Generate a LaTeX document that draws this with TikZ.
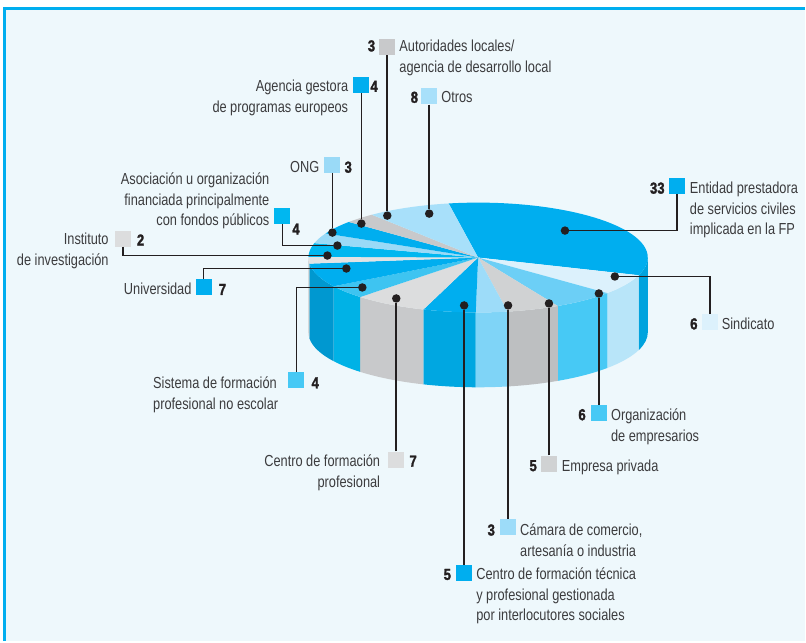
\documentclass[tikz,border=0pt]{standalone}
\usepackage{fontspec}
\setmainfont[FakeStretch=0.8]{Liberation Sans}
\newfontfamily\numfont[FakeStretch=0.82,FakeBold=1.6]{Liberation Sans Bold}
\usepackage{tikz}

\definecolor{frameblue}{HTML}{00AEEF}
\definecolor{bgblue}{HTML}{EEF8FC}
\definecolor{txtgrey}{HTML}{3C3C3E}
\definecolor{inkblack}{HTML}{231F20}
% top faces
\definecolor{tEnt}{HTML}{00AEEF}
\definecolor{tSin}{HTML}{DCF1FC}
\definecolor{tOrg}{HTML}{6CCFF6}
\definecolor{tEmp}{HTML}{D0D2D3}
\definecolor{tCam}{HTML}{9DDCF9}
\definecolor{tTec}{HTML}{00AEEF}
\definecolor{tCfp}{HTML}{DCDDDE}
\definecolor{tSis}{HTML}{3EC4F1}
\definecolor{tUni}{HTML}{00AEEF}
\definecolor{tIns}{HTML}{E2E3E4}
\definecolor{tAso}{HTML}{00B7F0}
\definecolor{tONG}{HTML}{9ADAF7}
\definecolor{tAge}{HTML}{00AEEF}
\definecolor{tAut}{HTML}{C8C9CB}
\definecolor{tOtr}{HTML}{A8E0FA}
% side faces
\definecolor{sEnt}{HTML}{00A3DE}
\definecolor{sSin}{HTML}{B8E5F9}
\definecolor{sOrg}{HTML}{47C9F5}
\definecolor{sEmp}{HTML}{BDBFC1}
\definecolor{sCam}{HTML}{7FD4F7}
\definecolor{sTec}{HTML}{00A7E1}
\definecolor{sCfp}{HTML}{C8C9CB}
\definecolor{sSis}{HTML}{00B2E6}
\definecolor{sUni}{HTML}{0098D0}
\definecolor{sIns}{HTML}{C9CACC}

\begin{document}
\begin{tikzpicture}
            [x=1pt,y=-1pt,
            every node/.style={inner sep=0pt,font=\fontsize{16}{20.5}\selectfont,text=txtgrey},
            num/.style={font=\fontsize{16}{20.5}\numfont,text=inkblack},
            sq/.style={minimum size=16pt},
            blob/.style={circle,fill=inkblack,minimum size=8.5pt},
            lead/.style={line width=1.6pt,draw=inkblack}]
            % frame
            \fill[white] (0,0) rectangle (806,642);
            \fill[bgblue] (5,8) rectangle (806,642);
            \draw[frameblue,line width=3pt] (4.5,642) -- (4.5,8.5) -- (806,8.5);
            \coordinate (c) at (479,258);
            % side of the cake
            \fill[sEnt] (c) ++(0:170 and 55) arc (0:18.8:170 and 55) -- ++(0,75) arc (18.8:0:170 and 55) -- cycle;
            \fill[sSin] (c) ++(18.8:170 and 55) arc (18.8:40.4:170 and 55) -- ++(0,75) arc (40.4:18.8:170 and 55) -- cycle;
            \fill[sOrg] (c) ++(40.4:170 and 55) arc (40.4:62:170 and 55) -- ++(0,75) arc (62:40.4:170 and 55) -- cycle;
            \fill[sEmp] (c) ++(62:170 and 55) arc (62:80:170 and 55) -- ++(0,75) arc (80:62:170 and 55) -- cycle;
            \fill[sCam] (c) ++(80:170 and 55) arc (80:90.8:170 and 55) -- ++(0,75) arc (90.8:80:170 and 55) -- cycle;
            \fill[sTec] (c) ++(90.8:170 and 55) arc (90.8:108.8:170 and 55) -- ++(0,75) arc (108.8:90.8:170 and 55) -- cycle;
            \fill[sCfp] (c) ++(108.8:170 and 55) arc (108.8:134:170 and 55) -- ++(0,75) arc (134:108.8:170 and 55) -- cycle;
            \fill[sSis] (c) ++(134:170 and 55) arc (134:148.4:170 and 55) -- ++(0,75) arc (148.4:134:170 and 55) -- cycle;
            \fill[sUni] (c) ++(148.4:170 and 55) arc (148.4:173.6:170 and 55) -- ++(0,75) arc (173.6:148.4:170 and 55) -- cycle;
            \fill[sIns] (c) ++(173.6:170 and 55) arc (173.6:180:170 and 55) -- ++(0,75) arc (180:173.6:170 and 55) -- cycle;
            % top of the cake
            \fill[tEnt] (c) -- ++(-100:170 and 55) arc (-100:18.8:170 and 55) -- cycle;
            \fill[tSin] (c) -- ++(18.8:170 and 55) arc (18.8:40.4:170 and 55) -- cycle;
            \fill[tOrg] (c) -- ++(40.4:170 and 55) arc (40.4:62:170 and 55) -- cycle;
            \fill[tEmp] (c) -- ++(62:170 and 55) arc (62:80:170 and 55) -- cycle;
            \fill[tCam] (c) -- ++(80:170 and 55) arc (80:90.8:170 and 55) -- cycle;
            \fill[tTec] (c) -- ++(90.8:170 and 55) arc (90.8:108.8:170 and 55) -- cycle;
            \fill[tCfp] (c) -- ++(108.8:170 and 55) arc (108.8:134:170 and 55) -- cycle;
            \fill[tSis] (c) -- ++(134:170 and 55) arc (134:148.4:170 and 55) -- cycle;
            \fill[tUni] (c) -- ++(148.4:170 and 55) arc (148.4:173.6:170 and 55) -- cycle;
            \fill[tIns] (c) -- ++(173.6:170 and 55) arc (173.6:180.8:170 and 55) -- cycle;
            \fill[tAso] (c) -- ++(180.8:170 and 55) arc (180.8:195.2:170 and 55) -- cycle;
            \fill[tONG] (c) -- ++(195.2:170 and 55) arc (195.2:206:170 and 55) -- cycle;
            \fill[tAge] (c) -- ++(206:170 and 55) arc (206:220.4:170 and 55) -- cycle;
            \fill[tAut] (c) -- ++(220.4:170 and 55) arc (220.4:231.2:170 and 55) -- cycle;
            \fill[tOtr] (c) -- ++(231.2:170 and 55) arc (231.2:260:170 and 55) -- cycle;
            % dots in the slices
            \node[blob] (dEnt) at (566,231) {};
            \node[blob] (dSin) at (616,277) {};
            \node[blob] (dOrg) at (600,294) {};
            \node[blob] (dEmp) at (550,304) {};
            \node[blob] (dCam) at (509,306) {};
            \node[blob] (dTec) at (465,306) {};
            \node[blob] (dCfp) at (397,299) {};
            \node[blob] (dSis) at (363,288) {};
            \node[blob] (dUni) at (347,269) {};
            \node[blob] (dIns) at (328,256) {};
            \node[blob] (dAso) at (338,246) {};
            \node[blob] (dONG) at (333,233) {};
            \node[blob] (dAge) at (362,224) {};
            \node[blob] (dAut) at (388,216) {};
            \node[blob] (dOtr) at (430,214) {};
            % legend
            \node[sq,fill=tEnt] (sqEnt) at (678,186) {};
            \node[num,anchor=base east] (nEnt) at (666,194) {33};
            \node[anchor=north west,align=left] (lEnt) at (691,182.3) {Entidad prestadora\\de servicios civiles\\implicada en la FP};
            \node[sq,fill=tSin] (sqSin) at (711.5,323) {};
            \node[num,anchor=base east] (nSin) at (699,330) {6};
            \node[anchor=base west] (lSin) at (723,330) {Sindicato};
            \node[sq,fill=sOrg] (sqOrg) at (600,414) {};
            \node[num,anchor=base east] (nOrg) at (587,421) {6};
            \node[anchor=north west,align=left] (lOrg) at (612,409.6) {Organización\\de empresarios};
            \node[sq,fill=tEmp] (sqEmp) at (550,464.5) {};
            \node[num,anchor=base east] (nEmp) at (538,472) {5};
            \node[anchor=base west] (lEmp) at (562.7,472) {Empresa privada};
            \node[sq,fill=tCam] (sqCam) at (509,528) {};
            \node[num,anchor=base east] (nCam) at (496,536.5) {3};
            \node[anchor=north west,align=left] (lCam) at (521,525) {Cámara de comercio,\\artesanía o industria};
            \node[sq,fill=tTec] (sqTec) at (465,574) {};
            \node[num,anchor=base east] (nTec) at (452,581) {5};
            \node[anchor=north west,align=left] (lTec) at (477,569) {Centro de formación técnica\\y profesional gestionada\\por interlocutores sociales};
            \node[sq,fill=tCfp] (sqCfp) at (397,460.5) {};
            \node[num,anchor=base west] (nCfp) at (410,467.5) {7};
            \node[anchor=north east,align=right] (lCfp) at (381,455.7) {Centro de formación\\profesional};
            \node[sq,fill=sOrg] (sqSis) at (297,381) {};
            \node[num,anchor=base west] (nSis) at (312,389) {4};
            \node[anchor=north west,align=left] (lSis) at (153.3,377.7) {Sistema de formación\\profesional no escolar};
            \node[sq,fill=tUni] (sqUni) at (204,288) {};
            \node[num,anchor=base west] (nUni) at (219,295.5) {7};
            \node[anchor=base east] (lUni) at (192,295.5) {Universidad};
            \node[sq,fill=tCfp] (sqIns) at (123,239) {};
            \node[num,anchor=base west] (nIns) at (137,246) {2};
            \node[anchor=north east,align=right] (lIns) at (109,233.5) {Instituto\\de investigación};
            \node[sq,fill=tAso] (sqAso) at (283,216.5) {};
            \node[num,anchor=base west] (nAso) at (292.7,235) {4};
            \node[anchor=north east,align=right] (lAso) at (270,173) {Asociación u organización\\financiada principalmente\\con fondos públicos};
            \node[sq,fill=tONG] (sqONG) at (333,165) {};
            \node[num,anchor=base west] (nONG) at (345,173) {3};
            \node[anchor=base east] (lONG) at (320,173) {ONG};
            \node[sq,fill=tAge] (sqAge) at (362,85) {};
            \node[num,anchor=base west] (nAge) at (371,92) {4};
            \node[anchor=north east,align=right] (lAge) at (349,80.3) {Agencia gestora\\de programas europeos};
            \node[sq,fill=tAut] (sqAut) at (388,47) {};
            \node[num,anchor=base east] (nAut) at (376,51.5) {3};
            \node[anchor=north west,align=left] (lAut) at (400,40) {Autoridades locales/\\agencia de desarrollo local};
            \node[sq,fill=tOtr] (sqOtr) at (430,96.5) {};
            \node[num,anchor=base east] (nOtr) at (419,103) {8};
            \node[anchor=base west] (lOtr) at (442,103) {Otros};
            % leader lines
            \draw[lead] (sqEnt.south) |- (dEnt);
            \draw[lead] (sqSin.north) |- (dSin);
            \draw[lead] (sqOrg.north) -- (dOrg);
            \draw[lead] (sqEmp.north) -- (dEmp);
            \draw[lead] (sqCam.north) -- (dCam);
            \draw[lead] (sqTec.north) -- (dTec);
            \draw[lead] (sqCfp.north) -- (dCfp);
            \draw[lead] (sqSis.north) |- (dSis);
            \draw[lead] (sqUni.north) |- (dUni);
            \draw[lead] (sqIns.south) |- (dIns);
            \draw[lead] (sqAso.south) |- (dAso);
            \draw[lead] (sqONG.south) -- (dONG);
            \draw[lead] (sqAge.south) -- (dAge);
            \draw[lead] (sqAut.south) -- (dAut);
            \draw[lead] (sqOtr.south) -- (dOtr);
        \end{tikzpicture}
\end{document}
